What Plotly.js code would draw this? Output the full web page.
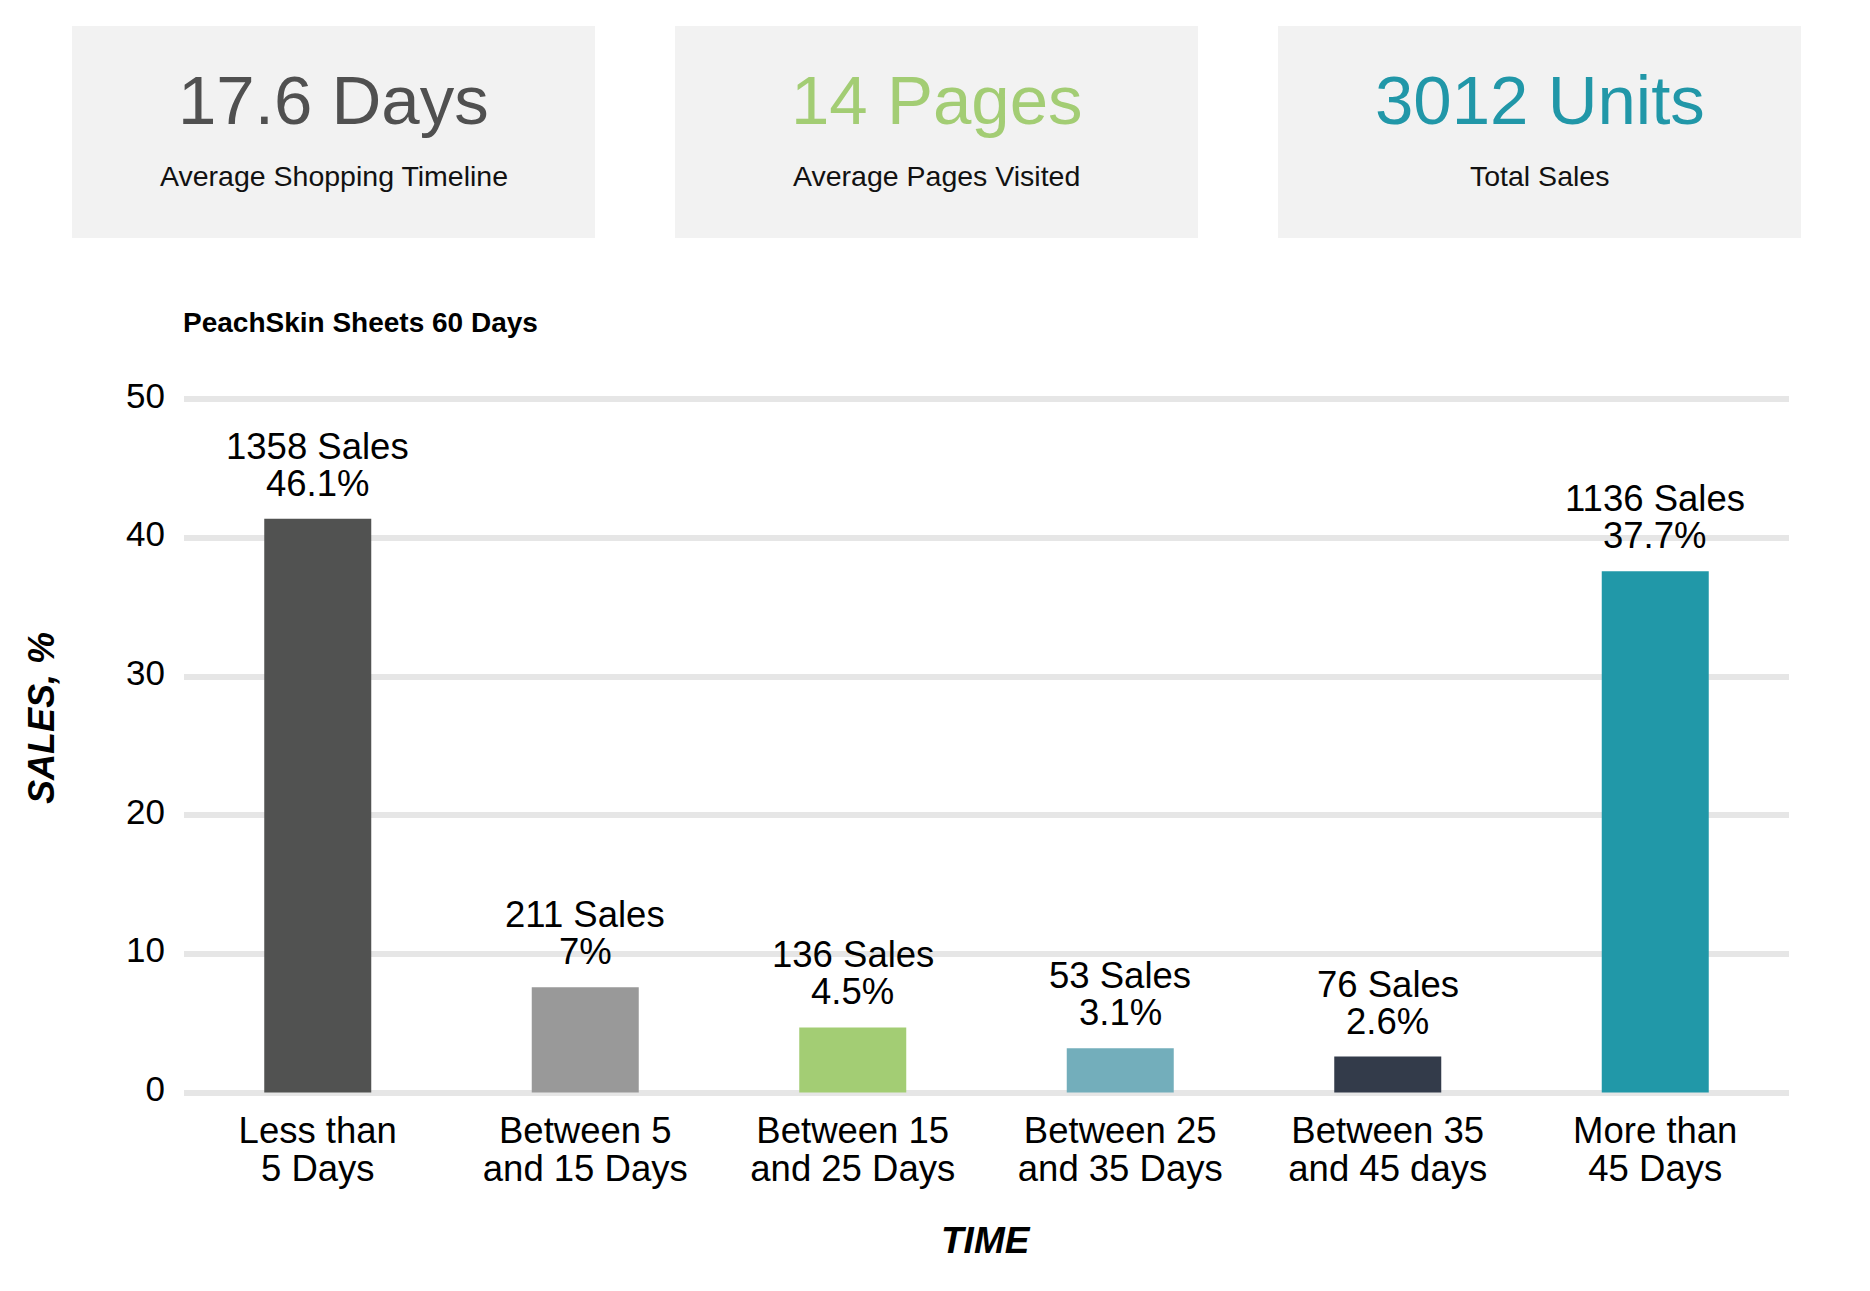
<!DOCTYPE html>
<html>
<head>
<meta charset="utf-8">
<script src="https://cdn.plot.ly/plotly-3.0.1.min.js"></script>
<style>
  html, body { margin: 0; padding: 0; background: #ffffff; }
  #chart { width: 1870px; height: 1291px; }
</style>
</head>
<body>
<div id="chart"></div>
<script>
// ---------- data ----------
const categories = [
  "Less than 5 Days",
  "Between 5 and 15 Days",
  "Between 15 and 25 Days",
  "Between 25 and 35 Days",
  "Between 35 and 45 days",
  "More than 45 Days"
];
const tickLine1 = ["Less than", "Between 5", "Between 15", "Between 25", "Between 35", "More than"];
const tickLine2 = ["5 Days", "and 15 Days", "and 25 Days", "and 35 Days", "and 45 days", "45 Days"];
const barValues = [41.4, 7.6, 4.7, 3.2, 2.6, 37.6];
const salesCounts = [1358, 211, 136, 53, 76, 1136];
const salesPercents = ["46.1%", "7%", "4.5%", "3.1%", "2.6%", "37.7%"];
const yTickValues = [0, 10, 20, 30, 40, 50];
const kpiValues = ["17.6 Days", "14 Pages", "3012 Units"];
const kpiLabels = ["Average Shopping Timeline", "Average Pages Visited", "Total Sales"];
const chartTitle = "PeachSkin Sheets 60 Days";
const yTitle = "SALES, %";
const xTitle = "TIME";

// ---------- styles ----------
const barColors = ["#515251", "#999999", "#A3CD74", "#73AEBB", "#333B4A", "#2198A8"];
const kpiColors = ["#505050", "#A3CD74", "#2197A8"];
const FONT = "Liberation Sans, Arial, Helvetica, sans-serif";

// ---------- geometry ----------
const FIG_W = 1870, FIG_H = 1291;
const M = { l: 184, r: 81, t: 396, b: 195 };
const PW = FIG_W - M.l - M.r;
const PH = FIG_H - M.t - M.b;
const pxX = x => (x - M.l) / PW;
const pxY = y => (FIG_H - M.b - y) / PH;

const boxLeft = [72, 675, 1278];
const boxWidth = 523;
const boxTop = 26, boxBottom = 238;

const shapes = boxLeft.map(x0 => ({
  type: "rect", xref: "paper", yref: "paper", layer: "below",
  x0: pxX(x0), x1: pxX(x0 + boxWidth), y0: pxY(boxBottom), y1: pxY(boxTop),
  fillcolor: "#F2F2F2", line: { width: 0 }
}));

const annotations = [];
kpiValues.forEach((v, i) => {
  const cx = boxLeft[i] + boxWidth / 2;
  annotations.push({
    xref: "paper", yref: "paper", x: pxX(cx), y: pxY(101),
    xanchor: "center", yanchor: "middle", showarrow: false,
    text: v, font: { family: FONT, size: 69, color: kpiColors[i] },
    borderpad: 0, borderwidth: 0
  });
  annotations.push({
    xref: "paper", yref: "paper", x: pxX(cx), y: pxY(176),
    xanchor: "center", yanchor: "middle", showarrow: false,
    text: kpiLabels[i], font: { family: FONT, size: 28.5, color: "#111111" },
    borderpad: 0, borderwidth: 0
  });
});

// bar labels: two lines each, anchored to the bar top via the data scales
categories.forEach((c, i) => {
  annotations.push({
    x: c, y: barValues[i], xref: "x", yref: "y",
    xanchor: "center", yanchor: "bottom", yshift: 15, showarrow: false,
    text: salesPercents[i], font: { family: FONT, size: 36.5, color: "#000000" },
    borderpad: 0, borderwidth: 0
  });
  annotations.push({
    x: c, y: barValues[i], xref: "x", yref: "y",
    xanchor: "center", yanchor: "bottom", yshift: 52, showarrow: false,
    text: salesCounts[i] + " Sales", font: { family: FONT, size: 36.5, color: "#000000" },
    borderpad: 0, borderwidth: 0
  });
});

// axis titles
annotations.push({
  xref: "paper", yref: "paper", x: pxX(41), y: pxY(718),
  xanchor: "center", yanchor: "middle", showarrow: false, textangle: -90,
  text: "<b><i>" + yTitle + "</i></b>", font: { family: FONT, size: 36, color: "#000000" },
  borderpad: 0, borderwidth: 0
});
annotations.push({
  xref: "paper", yref: "paper", x: pxX(986), y: pxY(1240),
  xanchor: "center", yanchor: "middle", showarrow: false,
  text: "<b><i>" + xTitle + "</i></b>", font: { family: FONT, size: 37, color: "#000000" },
  borderpad: 0, borderwidth: 0
});

const barTrace = {
  type: "bar",
  x: categories,
  y: barValues,
  marker: { color: barColors, line: { width: 0 } },
  hoverinfo: "none"
};
// draws nothing; only attaches the second-line category labels axis
const secondLineAxisTrace = {
  type: "scatter", mode: "none",
  x: categories.map((c, i) => i),
  y: barValues,
  xaxis: "x2", yaxis: "y",
  hoverinfo: "none", showlegend: false
};

const layout = {
  width: FIG_W, height: FIG_H,
  margin: M,
  paper_bgcolor: "#ffffff", plot_bgcolor: "#ffffff",
  showlegend: false,
  bargap: 0.6,
  font: { family: FONT, color: "#000000" },
  title: {
    text: "<b>" + chartTitle + "</b>",
    xref: "container", yref: "container",
    x: 183 / FIG_W, xanchor: "left",
    y: 1 - 322 / FIG_H, yanchor: "middle",
    font: { family: FONT, size: 28, color: "#000000" }
  },
  xaxis: {
    type: "category",
    categoryorder: "array", categoryarray: categories,
    range: [-0.5, categories.length - 0.5],
    tickmode: "array", tickvals: categories, ticktext: tickLine1,
    showgrid: false, zeroline: false, showline: false,
    ticks: "",
    tickfont: { family: FONT, size: 36.5, color: "#000000" },
    ticklabelstandoff: 9,
    fixedrange: true
  },
  xaxis2: {
    overlaying: "x", anchor: "y", side: "bottom",
    type: "linear",
    range: [-0.5, categories.length - 0.5],
    tickmode: "array", tickvals: categories.map((c, i) => i), ticktext: tickLine2,
    showgrid: false, zeroline: false, showline: false,
    ticks: "",
    tickfont: { family: FONT, size: 36.5, color: "#000000" },
    ticklabelstandoff: 47,
    fixedrange: true
  },
  yaxis: {
    range: [-0.25, 50.25],
    tickvals: yTickValues,
    ticktext: yTickValues.map(String),
    showgrid: true, gridcolor: "#E6E6E6", gridwidth: 6,
    zeroline: false, showline: false, ticks: "",
    tickfont: { family: FONT, size: 35, color: "#000000" },
    ticklabelstandoff: 18,
    ticklabelshift: -4,
    fixedrange: true
  },
  shapes: shapes,
  annotations: annotations
};

Plotly.newPlot("chart", [barTrace, secondLineAxisTrace], layout, { displayModeBar: false, staticPlot: true });
</script>
</body>
</html>
